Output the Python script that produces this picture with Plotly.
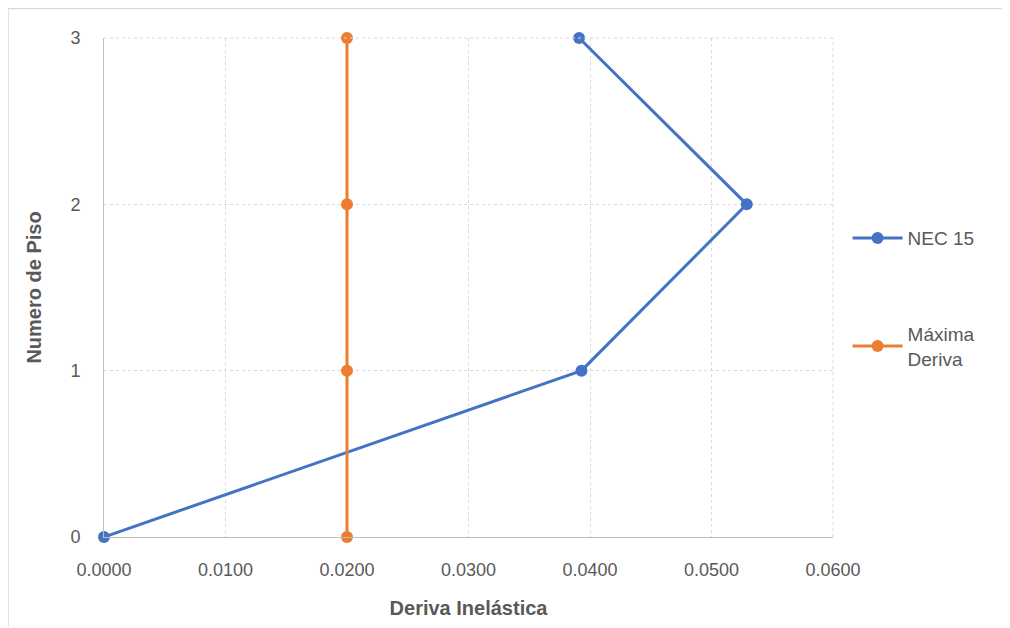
import plotly.graph_objects as go

# Values
pisos = [0, 1, 2, 3]
deriva_nec = [0.0, 0.0393, 0.0529, 0.0391]
deriva_max = [0.02, 0.02, 0.02, 0.02]
x_ticks = [0.0, 0.01, 0.02, 0.03, 0.04, 0.05, 0.06]

FONT = "Liberation Sans, Arial"
TXT = "#595959"

fig = go.Figure()

fig.add_trace(go.Scatter(
    x=deriva_nec, y=pisos, mode="lines+markers", name="NEC 15",
    line=dict(color="#4472C4", width=3), marker=dict(size=12, color="#4472C4"),
    legendgroup="a", cliponaxis=False,
))
fig.add_trace(go.Scatter(
    x=deriva_max, y=pisos, mode="lines+markers", name="Máxima<br>Deriva",
    line=dict(color="#ED7D31", width=3), marker=dict(size=12, color="#ED7D31"),
    legendgroup="b", cliponaxis=False,
))

# page body adds an 8px margin, so the figure is a bit smaller than the window
fig.update_layout(
    width=1002, height=620,
    margin=dict(l=96, r=177, t=30, b=89),
    paper_bgcolor="white", plot_bgcolor="white",
    font=dict(family=FONT, size=18, color=TXT),
    legend=dict(x=1.02, y=0.637, xanchor="left", yanchor="top",
                tracegroupgap=68, font=dict(size=19, color=TXT), itemwidth=50),
    showlegend=True,
)

fig.update_xaxes(
    range=[0, 0.06], tickvals=x_ticks, tickformat=".4f",
    showgrid=True, gridcolor="#D9D9D9", griddash="dot", gridwidth=1,
    showline=True, linecolor="#BFBFBF", linewidth=1, zeroline=False,
    ticks="", ticklabelstandoff=16,
    title=dict(text="<b>Deriva Inelástica</b>", font=dict(size=20, color=TXT), standoff=22),
)
fig.update_yaxes(
    range=[0, 3], dtick=1,
    showgrid=True, gridcolor="#D9D9D9", griddash="dot", gridwidth=1,
    showline=True, linecolor="#BFBFBF", linewidth=1, zeroline=False,
    ticks="", ticklabelstandoff=19,
    title=dict(text="<b>Numero de Piso</b>", font=dict(size=20, color=TXT), standoff=23),
)

# Right and top dotted border of plot area
fig.add_shape(type="line", xref="paper", yref="paper", x0=1, x1=1, y0=0, y1=1,
              line=dict(color="#D9D9D9", width=1, dash="dot"))
fig.add_shape(type="line", xref="paper", yref="paper", x0=0, x1=1, y0=1, y1=1,
              line=dict(color="#D9D9D9", width=1, dash="dot"))

# Outer chart frame (top and left edges visible in the reference)
fig.add_shape(type="line", xref="paper", yref="paper", x0=-0.1317, x1=1.25, y0=1.059, y1=1.059,
              line=dict(color="#D9D9D9", width=1.5))
fig.add_shape(type="line", xref="paper", yref="paper", x0=-0.1317, x1=-0.1317, y0=-0.18, y1=1.059,
              line=dict(color="#D9D9D9", width=1.5))

fig.write_html("out.html")
